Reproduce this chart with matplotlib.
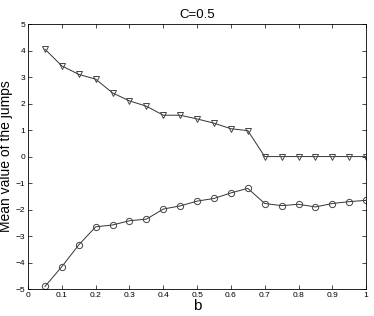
import matplotlib
matplotlib.use("Agg")
import matplotlib.pyplot as plt

plt.rcParams['font.family'] = ['Liberation Sans', 'DejaVu Sans']

# data
b = [0.05, 0.1, 0.15, 0.2, 0.25, 0.3, 0.35, 0.4, 0.45, 0.5,
     0.55, 0.6, 0.65, 0.7, 0.75, 0.8, 0.85, 0.9, 0.95, 1.0]
upper = [4.05, 3.42, 3.1, 2.92, 2.4, 2.1, 1.9, 1.56, 1.56, 1.42,
         1.26, 1.05, 0.98, 0, 0, 0, 0, 0, 0, 0]
lower = [-4.9, -4.15, -3.33, -2.65, -2.58, -2.42, -2.36, -1.98, -1.86, -1.68,
         -1.58, -1.37, -1.2, -1.77, -1.85, -1.8, -1.9, -1.77, -1.7, -1.65]
xticks = [0, 0.1, 0.2, 0.3, 0.4, 0.5, 0.6, 0.7, 0.8, 0.9, 1]
yticks = [-5, -4, -3, -2, -1, 0, 1, 2, 3, 4, 5]

fig = plt.figure(figsize=(3.74, 3.16), dpi=100)
ax = fig.add_axes([0.075, 0.085, 0.904, 0.839])

ax.plot(b, upper, color='#333333', lw=0.7, marker='v', ms=5,
        mfc='none', mec='#444444', mew=0.7)
ax.plot(b, lower, color='#333333', lw=0.7, marker='o', ms=4.5,
        mfc='none', mec='#444444', mew=0.7)

ax.set_xlim(0, 1)
ax.set_ylim(-5, 5)
ax.set_xticks(xticks)
ax.set_xticklabels([f'{t:g}' for t in xticks])
ax.set_yticks(yticks)
ax.set_yticklabels([f'{t}'.replace('-', '\u2212') for t in yticks])
ax.tick_params(direction='in', top=True, right=True, labelsize=6, length=3, width=0.5, pad=2)
for s in ax.spines.values():
    s.set_linewidth(0.6)

ax.set_title('C=0.5', fontsize=9.5, pad=4)
ax.set_xlabel('b', fontsize=11, labelpad=0)
ax.set_ylabel('Mean value of the jumps', fontsize=10, labelpad=2)

fig.savefig('out.png', dpi=100)
